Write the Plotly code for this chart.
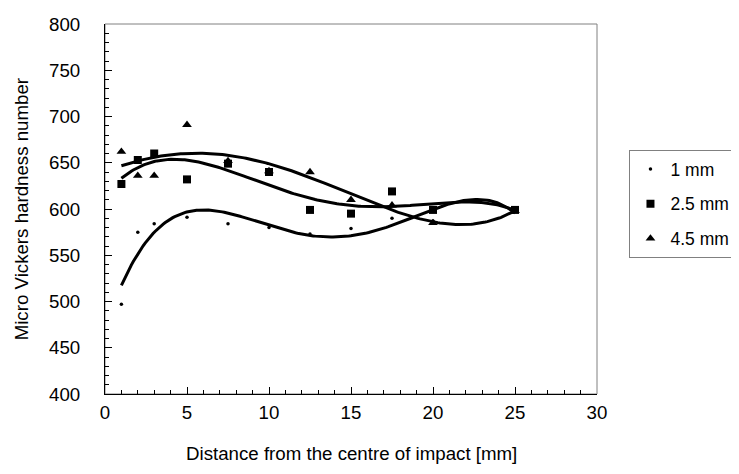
import numpy as np
import plotly.graph_objects as go

# Data
distance = [1, 2, 3, 5, 7.5, 10, 12.5, 15, 17.5, 20, 25]
hv_1mm = [497, 575, 584, 591, 584, 580, 573, 579, 590, 587, 598]
hv_2_5mm = [627, 653, 660, 632, 649, 640, 599, 595, 619, 599, 599]
hv_4_5mm = [662, 636, 636, 691, 652, 641, 640, 610, 604, 585, 598]
series_names = ["1 mm", "2.5 mm", "4.5 mm"]
x_ticks = [0, 5, 10, 15, 20, 25, 30]
y_ticks = [400, 450, 500, 550, 600, 650, 700, 750, 800]
x_title = "Distance from the centre of impact [mm]"
y_title = "Micro Vickers hardness number"

FONT = "Liberation Sans, Arial, sans-serif"
FS = 18.7
fig = go.Figure()

series = [
    (series_names[0], hv_1mm, dict(symbol="circle", size=3.5, color="black")),
    (series_names[1], hv_2_5mm, dict(symbol="square", size=8, color="black")),
    (series_names[2], hv_4_5mm, dict(symbol="triangle-up", size=8.5, color="black")),
]

xd = np.array(distance, dtype=float)
xs = np.linspace(xd.min(), xd.max(), 200)
for i, (name, vals, mk) in enumerate(series):
    fig.add_trace(go.Scatter(x=distance, y=vals, mode="markers", name=name,
                             marker=mk, legendgroup=f"g{i}"))
    coef = np.polyfit(xd, np.array(vals, dtype=float), 4)
    fig.add_trace(go.Scatter(x=xs, y=np.polyval(coef, xs), mode="lines",
                             line=dict(color="black", width=3),
                             showlegend=False, hoverinfo="skip"))

fig.add_shape(type="rect", xref="paper", yref="paper", x0=0, y0=0, x1=1, y1=1,
              line=dict(color="#808080", width=1), layer="below")

fig.add_annotation(text=x_title, xref="paper", yref="paper", x=0.5, y=(386 - 445) / 370,
                   xanchor="center", yanchor="middle", showarrow=False,
                   font=dict(family=FONT, size=FS, color="black"))
fig.add_annotation(text=y_title, xref="paper", yref="paper", x=(12 - 97) / 500, y=0.5,
                   xanchor="center", yanchor="middle", showarrow=False, textangle=-90,
                   font=dict(family=FONT, size=FS, color="black"))

fig.update_layout(
    width=739, height=474,
    margin=dict(l=97, r=142, t=16, b=88),
    paper_bgcolor="white", plot_bgcolor="white",
    font=dict(family=FONT, size=FS, color="black"),
    showlegend=True,
    legend=dict(x=(630 - 97) / 500, y=(386 - 142) / 370, xanchor="left", yanchor="top",
                bordercolor="#808080", borderwidth=1, bgcolor="white",
                font=dict(family=FONT, size=17.5, color="black"),
                tracegroupgap=9, itemwidth=30),
    xaxis=dict(range=[0, 30], tickvals=x_ticks, ticks="inside", ticklen=7,
               tickcolor="black", showline=True, linecolor="black", linewidth=1,
               showgrid=False, zeroline=False, automargin=False, ticklabelstandoff=2,
               minor=dict(ticks="inside", ticklen=4, dtick=1, tickcolor="black", showgrid=False),
               tickfont=dict(size=FS)),
    yaxis=dict(range=[400, 800], tickvals=y_ticks, ticks="inside", ticklen=7,
               tickcolor="black", showline=True, linecolor="black", linewidth=1,
               showgrid=False, zeroline=False, automargin=False, ticklabelstandoff=20,
               minor=dict(ticks="inside", ticklen=4, dtick=10, tickcolor="black", showgrid=False),
               tickfont=dict(size=FS)),
)

fig.write_html("out.html")
